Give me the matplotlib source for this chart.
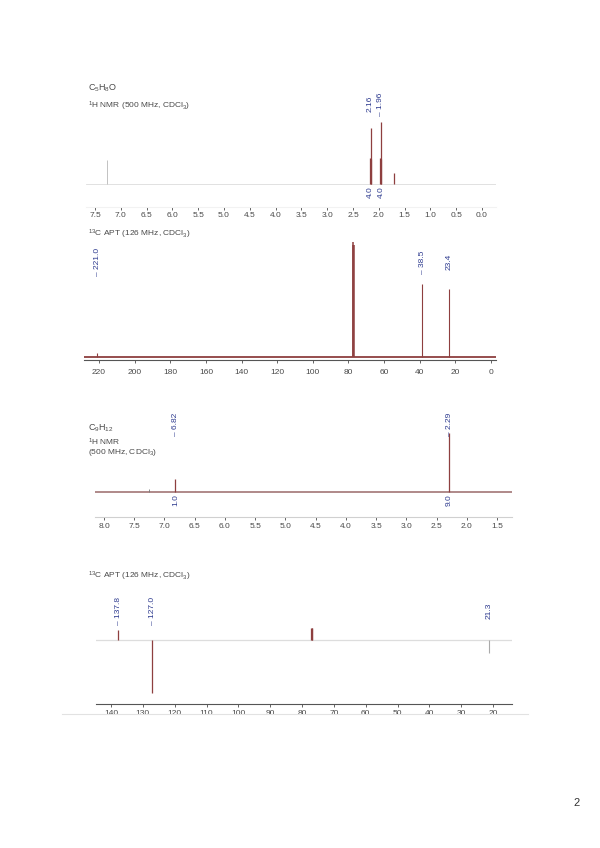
import matplotlib
matplotlib.use("Agg")
import matplotlib.pyplot as plt
from matplotlib.patches import Rectangle
from matplotlib.lines import Line2D
from matplotlib.transforms import blended_transform_factory

# page 2 of an NMR supporting information: cyclopentanone and mesitylene

# --- C5H8O, 1H NMR ---
h1a_ppm = [2.17, 2.16, 2.15, 1.97, 1.96, 1.95, 1.70]
h1a_int = [0.42, 0.90, 0.40, 0.42, 1.00, 0.40, 0.18]
h1a_solv_ppm = [7.26]
h1a_solv_int = [0.39]
h1a_peak_lab = ["2.16", "\u2013 1.96"]
h1a_peak_ppm = [2.16, 1.96]
h1a_integ = ["4.0", "4.0"]
h1a_ticks = [7.5, 7.0, 6.5, 6.0, 5.5, 5.0, 4.5, 4.0, 3.5, 3.0, 2.5, 2.0, 1.5, 1.0, 0.5, 0.0]

# --- C5H8O, 13C APT ---
c13a_ppm = [221.0, 38.5, 23.4]
c13a_int = [0.035, 0.635, 0.59]
c13a_solv_ppm = [77.4, 77.2, 77.0]
c13a_solv_int = [0.97, 1.00, 0.97]
c13a_peak_lab = ["\u2013 221.0", "\u2013 38.5", "23.4"]
c13a_peak_ppm = [221.0, 38.5, 23.4]
c13a_ticks = [220, 200, 180, 160, 140, 120, 100, 80, 60, 40, 20, 0]

# --- C9H12, 1H NMR ---
h1b_ppm = [6.82, 2.29]
h1b_int = [0.22, 1.00]
h1b_solv_ppm = [7.26]
h1b_solv_int = [0.05]
h1b_peak_lab = ["\u2013 6.82", "\u2013 2.29"]
h1b_peak_ppm = [6.82, 2.29]
h1b_integ = ["1.0", "9.0"]
h1b_ticks = [8.0, 7.5, 7.0, 6.5, 6.0, 5.5, 5.0, 4.5, 4.0, 3.5, 3.0, 2.5, 2.0, 1.5]

# --- C9H12, 13C APT ---
c13b_ppm = [137.8, 127.0, 77.3, 77.0, 76.8]
c13b_int = [0.19, -1.00, 0.23, 0.23, 0.23]
c13b_grey_ppm = [21.3]
c13b_grey_int = [-0.25]
c13b_peak_lab = ["\u2013 137.8", "\u2013 127.0", "21.3"]
c13b_peak_ppm = [137.8, 127.0, 21.3]
c13b_ticks = [140, 130, 120, 110, 100, 90, 80, 70, 60, 50, 40, 30, 20]

plt.rcParams['font.family'] = ['Liberation Sans', 'DejaVu Sans']
plt.rcParams['mathtext.fontset'] = 'custom'
plt.rcParams['mathtext.rm'] = 'Liberation Sans'
plt.rcParams['mathtext.it'] = 'Liberation Sans'

W, H = 600, 848
fig = plt.figure(figsize=(W / 100, H / 100), dpi=100)
fig.patch.set_facecolor("white")

LINE = "#8e3f3f"
BLUE = "#2e3b8f"
TXT = "#4a4a4a"


def panel(left, right, top, bottom, xa, xb, base, ref_px, ref_val=1.0):
    # xa, xb: (ppm, pixel x) anchors; base: pixel y of intensity 0,
    # ref_px: pixel y where intensity equals ref_val
    ax = fig.add_axes([left / W, 1 - bottom / H, (right - left) / W, (bottom - top) / H])
    s = (xb[0] - xa[0]) / (xb[1] - xa[1])
    ax.set_xlim(xa[0] + (left - xa[1]) * s, xa[0] + (right - xa[1]) * s)
    k = ref_val / (base - ref_px)
    ax.set_ylim(-(bottom - base) * k, (base - top) * k)
    for sp in ["left", "right", "top"]:
        ax.spines[sp].set_visible(False)
    ax.set_yticks([])
    ax.patch.set_alpha(0)
    return ax


def ftext(x, y, s, **kw):
    fig.text(x / W, 1 - y / H, s, **kw)


def peak_labels(ax, ppm, labels, y, color=BLUE, size=6):
    tr = blended_transform_factory(ax.transData, fig.transFigure)
    for p, lab in zip(ppm, labels):
        ax.text(p, 1 - y / H, lab, transform=tr, rotation=90, ha="center", va="center",
                fontsize=size, color=color)


def ticks(ax, vals, fmt, spine_col, length, pad):
    ax.set_xticks(vals)
    ax.set_xticklabels([fmt.format(v) for v in vals])
    ax.spines["bottom"].set_color(spine_col)
    ax.tick_params(axis="x", labelsize=6, colors=TXT, length=length, pad=pad, width=0.6)
    for t in ax.get_xticklines():
        t.set_color("#777777")


# ---------- panel 1 ----------
ax1 = panel(86, 496, 112, 207, (7.5, 95), (0.0, 482), 184, 122)
ax1.axhline(0, color="#dcdcdc", lw=0.6, zorder=1)
ax1.vlines(h1a_solv_ppm, 0, h1a_solv_int, colors="#b8b8b8", lw=0.6)
ax1.vlines(h1a_ppm, 0, h1a_int, colors=LINE, lw=0.9)
ticks(ax1, h1a_ticks, "{:.1f}", "#f2f2f2", 2, 1.8)
peak_labels(ax1, h1a_peak_ppm, h1a_peak_lab, 104)
peak_labels(ax1, h1a_peak_ppm, h1a_integ, 192)
ftext(88, 88, r"C$_5$H$_8$O", fontsize=6.5, color=TXT, va="center")
ftext(88, 106, r"$^1$H NMR (500 MHz, CDCl$_3$)", fontsize=6, color=TXT, va="center")

# ---------- panel 2 ----------
ax2 = panel(84, 496, 240, 360, (220, 99), (0, 491), 357, 242)
ax2.axhline(0, color=LINE, lw=1.3, zorder=1)
ax2.vlines(c13a_solv_ppm, 0, c13a_solv_int, colors=LINE, lw=1.1)
ax2.vlines(c13a_ppm, 0, c13a_int, colors=LINE, lw=0.8)
ticks(ax2, c13a_ticks, "{:d}", "#555555", 2.5, 4)
peak_labels(ax2, c13a_peak_ppm, c13a_peak_lab, 262)
ftext(88, 234, r"$^{13}$C APT (126 MHz, CDCl$_3$)", fontsize=6, color=TXT, va="center")

# ---------- panel 3 ----------
ax3 = panel(95, 512, 415, 517, (8.0, 104), (1.5, 497), 492, 433)
ax3.axhline(0, color="#9a6a6a", lw=1.1, zorder=1)
ax3.vlines(h1b_solv_ppm, 0, h1b_solv_int, colors="#777777", lw=0.6)
ax3.vlines(h1b_ppm, 0, h1b_int, colors=LINE, lw=0.9)
ticks(ax3, h1b_ticks, "{:.1f}", "#d0d0d0", 2, 2.5)
peak_labels(ax3, h1b_peak_ppm, h1b_peak_lab, 424)
peak_labels(ax3, h1b_peak_ppm, h1b_integ, 500)
ftext(88, 428, r"C$_9$H$_{12}$", fontsize=6.5, color=TXT, va="center")
ftext(88, 442, r"$^1$H NMR", fontsize=6, color=TXT, va="center")
ftext(88, 453, r"(500 MHz, CDCl$_3$)", fontsize=6, color=TXT, va="center")

# ---------- panel 4 ----------
ax4 = panel(96, 512, 590, 704, (140, 111), (20, 493), 640, 693, -1.0)
ax4.axhline(0, color="#dddddd", lw=0.9, zorder=1)
ax4.vlines(c13b_grey_ppm, 0, c13b_grey_int, colors="#aaaaaa", lw=0.8)
ax4.vlines(c13b_ppm, 0, c13b_int, colors=LINE, lw=0.9)
ticks(ax4, c13b_ticks, "{:d}", "#555555", 2, 2.2)
peak_labels(ax4, c13b_peak_ppm, c13b_peak_lab, 611)
ftext(88, 576, r"$^{13}$C APT (126 MHz, CDCl$_3$)", fontsize=6, color=TXT, va="center")

# bottom of the last spectrum is cut off on the page
fig.patches.append(Rectangle((0, 1 - 730 / H), 1, 16 / H, transform=fig.transFigure,
                             facecolor="white", edgecolor="none", zorder=10))
fig.lines.append(Line2D([62 / W, 528 / W], [1 - 714 / H, 1 - 714 / H], transform=fig.transFigure,
                        color="#e2e2e2", lw=0.8, zorder=11))

ftext(577, 803, "2", fontsize=8, color="#333333", ha="center", va="center")

fig.savefig("out.png", dpi=100, facecolor="white")
